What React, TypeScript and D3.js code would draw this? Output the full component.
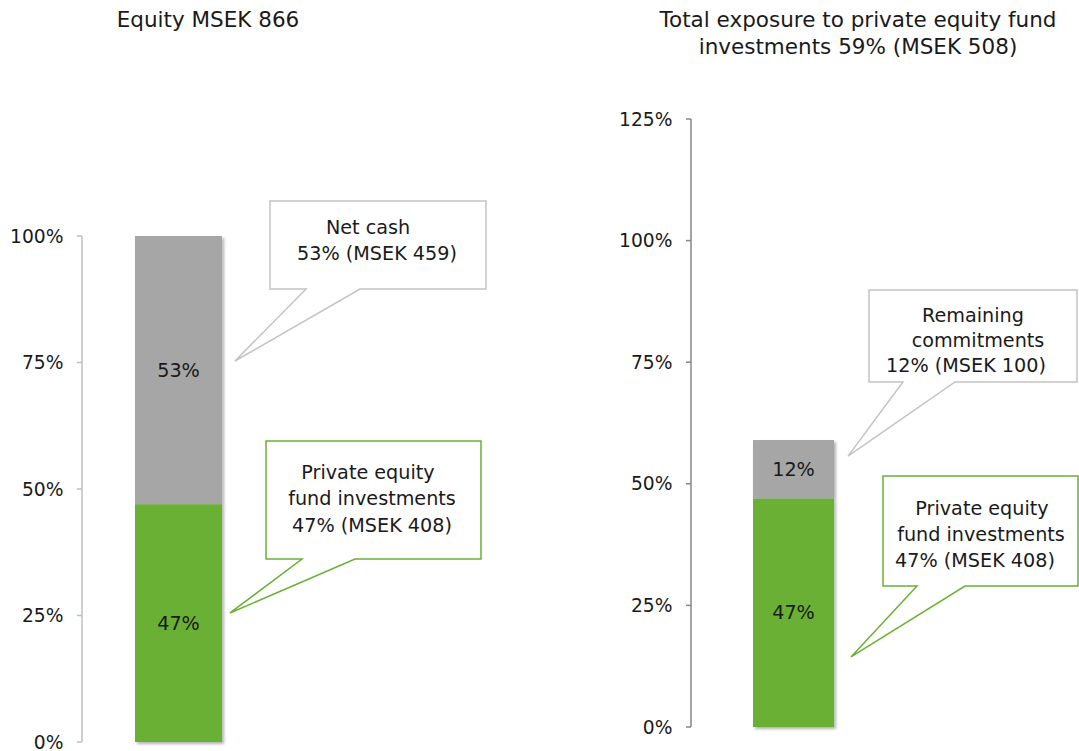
import React from "react";
import * as d3 from "d3";

// ---- data ----
const leftTitle = ["Equity MSEK 866"];
const rightTitle = ["Total exposure to private equity fund", "investments 59% (MSEK 508)"];
const segmentNames = ["Private equity fund investments", "Other"];
const leftValues = [47, 53]; // green, gray
const rightValues = [47, 12];
const leftLabels = ["47%", "53%"];
const rightLabels = ["47%", "12%"];
const leftTicks = [0, 25, 50, 75, 100];
const rightTicks = [0, 25, 50, 75, 100, 125];
const leftCalloutGray = ["Net cash", "53% (MSEK 459)"];
const leftCalloutGreen = ["Private equity", "fund investments", "47% (MSEK 408)"];
const rightCalloutGray = ["Remaining", "commitments", "12% (MSEK 100)"];
const rightCalloutGreen = ["Private equity", "fund investments", "47% (MSEK 408)"];

const GREEN = "#6ab034";
const GRAY = "#a6a6a6";
const TEXT = "#1a1a1a";
const FONT = "'DejaVu Sans', Verdana, sans-serif";
const CALLOUT_FS = 19.2;

type Callout = {
  lines: string[];
  box: [number, number, number, number]; // x0,y0,x1,y1
  base: [number, number];
  tip: [number, number]; // x pixel, y value
  color: string;
  lineY: number[];
  lineX: number[];
};

function CalloutShape({ c, y }: { c: Callout; y: d3.ScaleLinear<number, number> }) {
  const [x0, y0, x1, y1] = c.box;
  const tx = c.tip[0];
  const ty = y(c.tip[1]);
  const p = d3.path();
  p.moveTo(x0, y0);
  p.lineTo(x1, y0);
  p.lineTo(x1, y1);
  p.lineTo(c.base[1], y1);
  p.lineTo(tx, ty);
  p.lineTo(c.base[0], y1);
  p.lineTo(x0, y1);
  p.closePath();
  return (
    <g>
      <path d={p.toString()} fill="#fff" stroke={c.color} strokeWidth={1.5} strokeLinejoin="miter" />
      {c.lines.map((l, i) => (
        <text key={i} x={c.lineX[i]} y={c.lineY[i]} dy="0.35em" textAnchor="middle" fontSize={CALLOUT_FS} fill={TEXT} fontFamily={FONT}>
          {l}
        </text>
      ))}
    </g>
  );
}

function Panel({
  values, labels, ticks, yRange, axisX, bandRange, pad, axisColor, callouts, category,
}: {
  values: number[]; labels: string[]; ticks: number[]; yRange: [number, number]; axisX: number;
  bandRange: [number, number]; pad: number; axisColor: string; callouts: Callout[]; category: string;
}) {
  const y = d3.scaleLinear().domain([0, ticks[ticks.length - 1]]).range(yRange);
  const x = d3.scaleBand<string>().domain([category]).range(bandRange).paddingInner(0).paddingOuter(pad);
  const stack = d3.stack<number[]>().keys(["0", "1"]).value((d, k) => d[+k]);
  const series = stack([values]);
  const colors = [GREEN, GRAY];
  return (
    <g>
      <line x1={axisX} x2={axisX} y1={y(0)} y2={y(ticks[ticks.length - 1])} stroke={axisColor} strokeWidth={1.5} />
      {ticks.map((t) => (
        <g key={t}>
          <line x1={axisX - 5} x2={axisX} y1={y(t)} y2={y(t)} stroke={axisColor} strokeWidth={1.5} />
          <text x={axisX - 18.5} y={y(t)} dy="0.35em" textAnchor="end" fontSize={18.7} fill={TEXT} fontFamily={FONT}>
            {t}%
          </text>
        </g>
      ))}
      <g filter="url(#shadow)">
        {series.map((s, i) => (
          <rect key={i} x={x(category)} width={x.bandwidth()} y={y(s[0][1])} height={y(s[0][0]) - y(s[0][1])} fill={colors[i]} />
        ))}
      </g>
      {series.map((s, i) => (
        <text key={i} x={(x(category) as number) + x.bandwidth() / 2} y={(y(s[0][0]) + y(s[0][1])) / 2} dy="0.35em"
          textAnchor="middle" fontSize={CALLOUT_FS} fill={TEXT} fontFamily={FONT}>
          {labels[i]}
        </text>
      ))}
      {callouts.map((c, i) => <CalloutShape key={i} c={c} y={y} />)}
    </g>
  );
}

export default function App() {
  const leftCallouts: Callout[] = [
    { lines: leftCalloutGray, box: [270, 201, 486, 289], base: [306, 360], tip: [235, 75.3], color: "#c3c3c3",
      lineY: [227, 253], lineX: [368, 377] },
    { lines: leftCalloutGreen, box: [266, 441, 481, 559], base: [302, 355], tip: [230, 25.5], color: GREEN,
      lineY: [472, 498, 525], lineX: [368, 372, 372] },
  ];
  const rightCallouts: Callout[] = [
    { lines: rightCalloutGray, box: [869, 290, 1077, 382], base: [903, 955], tip: [848, 55.7], color: "#c3c3c3",
      lineY: [315, 340, 365], lineX: [973, 978, 966] },
    { lines: rightCalloutGreen, box: [883, 476, 1078, 586], base: [917, 965], tip: [851, 14.4], color: GREEN,
      lineY: [508, 534, 560], lineX: [982, 981, 975] },
  ];
  return (
    <svg width={1079} height={751} style={{ position: "absolute", left: 0, top: 0, background: "#fff" }}>
      <defs>
        <filter id="shadow" x="-20%" y="-20%" width="150%" height="150%">
          <feDropShadow dx={2} dy={2} stdDeviation={1.5} floodColor="#000" floodOpacity={0.3} />
        </filter>
      </defs>
      <rect width={1079} height={751} fill="#fff" />
      {leftTitle.map((t, i) => (
        <text key={i} x={208} y={19 + i * 27} dy="0.35em" textAnchor="middle" fontSize={21.5} fill={TEXT} fontFamily={FONT}>{t}</text>
      ))}
      {rightTitle.map((t, i) => (
        <text key={i} x={858} y={19 + i * 27} dy="0.35em" textAnchor="middle" fontSize={21.5} fill={TEXT} fontFamily={FONT}>{t}</text>
      ))}
      <Panel values={leftValues} labels={leftLabels} ticks={leftTicks} yRange={[742, 236]} axisX={82}
        bandRange={[92, 265]} pad={0.494} axisColor="#bfbfbf" callouts={leftCallouts} category={segmentNames[0]} />
      <Panel values={rightValues} labels={rightLabels} ticks={rightTicks} yRange={[727, 119]} axisX={691}
        bandRange={[712, 875]} pad={0.506} axisColor="#868686" callouts={rightCallouts} category={segmentNames[0]} />
    </svg>
  );
}
